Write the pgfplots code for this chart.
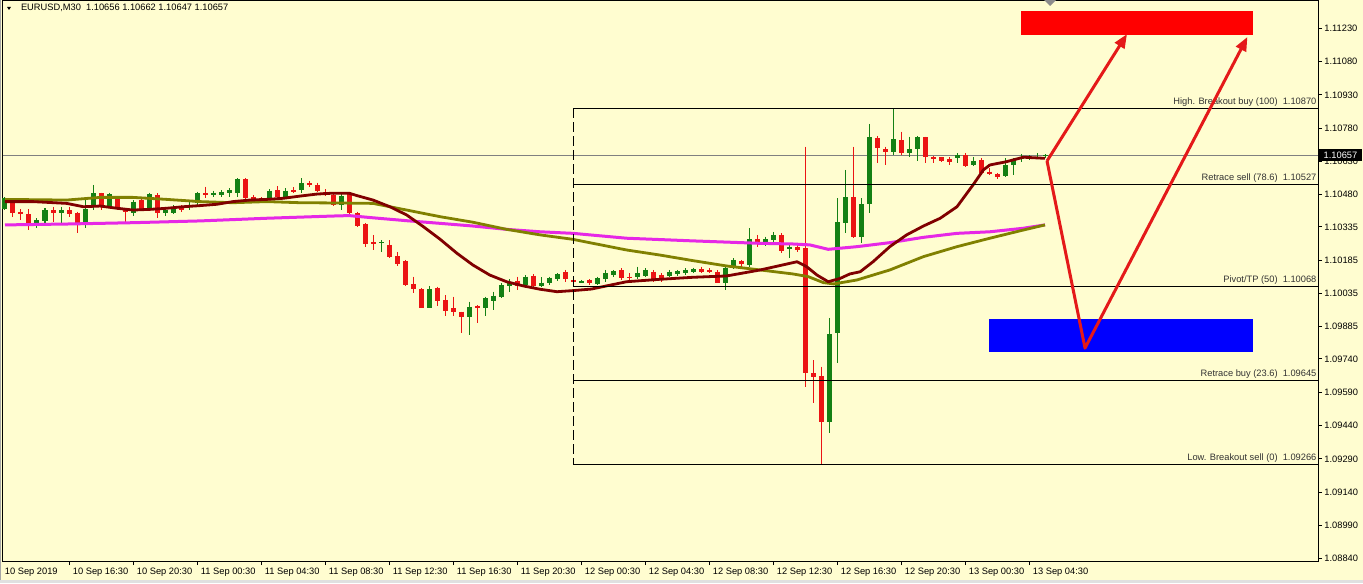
\documentclass[border=0pt]{standalone}
\usepackage{pgfplots}
\pgfplotsset{compat=1.18}
\usepackage{pgfplotstable}
\usepackage{fontspec}
\setmainfont{Liberation Sans}
\usetikzlibrary{arrows.meta}
\definecolor{bgc}{RGB}{255,253,208}
\definecolor{cR}{RGB}{235,20,20}
\definecolor{cG}{RGB}{20,128,20}
\definecolor{maroonMA}{RGB}{128,0,0}
\definecolor{oliveMA}{RGB}{128,128,0}
\definecolor{magMA}{RGB}{230,40,230}
\definecolor{arrowR}{RGB}{228,25,25}
\newcommand\mtfont{\fontsize{4.65pt}{5.6pt}\selectfont}

% bearish candles: bar index, high, low, body top (open), body bottom (close)
\pgfplotstableread{
n hi lo top bot
1 1.10464 1.10381 1.10461 1.10396
2 1.10414 1.10366 1.10404 1.10392
3 1.10414 1.10321 1.10393 1.10351
6 1.10426 1.10359 1.10411 1.10399
8 1.10426 1.10381 1.10411 1.10393
9 1.10404 1.10306 1.10399 1.10351
12 1.10489 1.10411 1.10487 1.10426
14 1.10468 1.10411 1.10459 1.10419
15 1.10419 1.10359 1.10414 1.10401
17 1.10464 1.10408 1.10456 1.10414
19 1.10487 1.10374 1.10479 1.10396
22 1.10434 1.10404 1.10426 1.10411
25 1.10516 1.10464 1.10487 1.10478
30 1.10554 1.10459 1.10550 1.10464
31 1.10479 1.10449 1.10471 1.10456
32 1.10468 1.10449 1.10464 1.10456
34 1.10519 1.10459 1.10501 1.10471
36 1.10514 1.10487 1.10501 1.10494
38 1.10543 1.10516 1.10532 1.10524
39 1.10534 1.10494 1.10524 1.10498
40 1.10505 1.10474 1.10494 1.10487
41 1.10487 1.10429 1.10479 1.10434
43 1.10492 1.10389 1.10483 1.10398
44 1.10404 1.10336 1.10396 1.10341
45 1.10351 1.10246 1.10347 1.10258
46 1.10299 1.10231 1.10266 1.10258
48 1.10276 1.10194 1.10254 1.10201
49 1.10223 1.10159 1.10204 1.10168
50 1.10186 1.10069 1.10181 1.10073
51 1.10111 1.10036 1.10078 1.10055
52 1.10058 1.09968 1.10055 1.09971
54 1.10066 1.09979 1.10061 1.10003
55 1.10028 1.09934 1.10006 1.09956
56 1.10021 1.09934 1.09968 1.09953
57 1.09953 1.09858 1.09953 1.09930
59 1.09983 1.09903 1.09979 1.09968
64 1.10111 1.10051 1.10093 1.10069
66 1.10122 1.10063 1.10115 1.10069
70 1.10141 1.10088 1.10132 1.10099
71 1.10111 1.10073 1.10096 1.10085
73 1.10100 1.10073 1.10096 1.10081
77 1.10149 1.10096 1.10141 1.10106
78 1.10126 1.10088 1.10111 1.10103
81 1.10141 1.10088 1.10133 1.10096
82 1.10126 1.10088 1.10118 1.10103
87 1.10156 1.10126 1.10144 1.10133
88 1.10149 1.10126 1.10141 1.10133
89 1.10141 1.10081 1.10133 1.10084
92 1.10186 1.10144 1.10183 1.10168
94 1.10299 1.10246 1.10281 1.10261
97 1.10306 1.10216 1.10299 1.10228
99 1.10263 1.10223 1.10245 1.10231
100 1.10697 1.09615 1.10239 1.09675
101 1.09735 1.09540 1.09675 1.09660
102 1.09705 1.09266 1.09663 1.09457
106 1.10697 1.10284 1.10468 1.10291
109 1.10745 1.10622 1.10734 1.10689
110 1.10697 1.10614 1.10686 1.10674
112 1.10764 1.10659 1.10727 1.10669
115 1.10742 1.10624 1.10739 1.10649
116 1.10655 1.10622 1.10649 1.10642
117 1.10651 1.10629 1.10649 1.10633
118 1.10649 1.10614 1.10640 1.10629
120 1.10667 1.10604 1.10659 1.10610
122 1.10644 1.10574 1.10637 1.10579
123 1.10599 1.10569 1.10584 1.10574
124 1.10579 1.10552 1.10574 1.10559
}\redtab

% bullish candles: bar index, high, low, body top (close), body bottom (open)
\pgfplotstableread{
n hi lo top bot
0 1.10468 1.10411 1.10464 1.10414
4 1.10374 1.10329 1.10366 1.10351
5 1.10419 1.10354 1.10411 1.10362
7 1.10426 1.10354 1.10411 1.10399
10 1.10456 1.10329 1.10414 1.10354
11 1.10524 1.10411 1.10487 1.10426
13 1.10489 1.10419 1.10482 1.10426
16 1.10456 1.10384 1.10449 1.10396
18 1.10489 1.10411 1.10482 1.10419
20 1.10426 1.10384 1.10411 1.10399
21 1.10434 1.10393 1.10426 1.10399
23 1.10456 1.10411 1.10434 1.10426
24 1.10494 1.10434 1.10487 1.10444
26 1.10498 1.10468 1.10489 1.10478
27 1.10501 1.10471 1.10494 1.10480
28 1.10509 1.10468 1.10501 1.10487
29 1.10554 1.10468 1.10550 1.10487
33 1.10505 1.10456 1.10498 1.10464
35 1.10509 1.10459 1.10498 1.10471
37 1.10554 1.10489 1.10532 1.10501
42 1.10487 1.10411 1.10474 1.10434
47 1.10276 1.10223 1.10267 1.10261
53 1.10069 1.09968 1.10055 1.09971
58 1.09998 1.09848 1.09975 1.09930
60 1.10021 1.09934 1.10013 1.09968
61 1.10043 1.09961 1.10025 1.10003
62 1.10081 1.10013 1.10073 1.10021
63 1.10100 1.10043 1.10081 1.10069
65 1.10118 1.10058 1.10111 1.10073
67 1.10108 1.10063 1.10084 1.10069
68 1.10111 1.10073 1.10106 1.10081
69 1.10126 1.10093 1.10122 1.10100
72 1.10096 1.10081 1.10091 1.10084
74 1.10111 1.10073 1.10103 1.10078
75 1.10141 1.10088 1.10126 1.10099
76 1.10141 1.10111 1.10136 1.10118
79 1.10156 1.10099 1.10126 1.10108
80 1.10149 1.10108 1.10141 1.10115
83 1.10141 1.10108 1.10133 1.10114
84 1.10141 1.10114 1.10136 1.10123
85 1.10149 1.10118 1.10141 1.10129
86 1.10151 1.10126 1.10145 1.10133
90 1.10156 1.10051 1.10149 1.10084
91 1.10194 1.10144 1.10186 1.10156
93 1.10329 1.10156 1.10279 1.10163
95 1.10291 1.10249 1.10279 1.10261
96 1.10313 1.10261 1.10299 1.10276
98 1.10254 1.10194 1.10246 1.10234
103 1.09925 1.09405 1.09851 1.09457
104 1.10464 1.09720 1.10356 1.09856
105 1.10592 1.10306 1.10468 1.10354
107 1.10464 1.10261 1.10438 1.10291
108 1.10799 1.10399 1.10739 1.10438
111 1.10870 1.10659 1.10730 1.10674
113 1.10742 1.10649 1.10685 1.10669
114 1.10745 1.10633 1.10739 1.10685
119 1.10667 1.10622 1.10659 1.10644
121 1.10649 1.10610 1.10633 1.10613
125 1.10644 1.10561 1.10614 1.10565
126 1.10644 1.10569 1.10637 1.10614
127 1.10664 1.10629 1.10649 1.10640
128 1.10659 1.10637 1.10649 1.10642
129 1.10667 1.10640 1.10651 1.10644
130 1.10662 1.10647 1.10657 1.10656
}\greentab

\begin{document}
\begin{tikzpicture}
\fill[bgc] (0,0) rectangle (681.5pt,291.5pt);
\fill[black!12] (0,0) rectangle (681.5pt,1.5pt);
\draw[black!35, line width=0.5pt] (0.3pt,1.5pt) -- (0.3pt,291.5pt);
\begin{axis}[
  at={(1.5pt,11pt)}, anchor=south west,
  scale only axis, width=657.5pt, height=280pt,
  xmin=-0.25, xmax=164.125, ymin=1.088296, ymax=1.11353,
  clip=false,
  axis line style={line width=0.5pt, black},
  tick align=outside, major tick length=2pt,
  tick style={line width=0.5pt, black},
  xtick pos=bottom, ytick pos=right, yticklabel pos=right,
  xtick={8,16,...,128},
  xticklabels={10 Sep 16:30,10 Sep 20:30,11 Sep 00:30,11 Sep 04:30,11 Sep 08:30,11 Sep 12:30,11 Sep 16:30,11 Sep 20:30,12 Sep 00:30,12 Sep 04:30,12 Sep 08:30,12 Sep 12:30,12 Sep 16:30,12 Sep 20:30,13 Sep 00:30,13 Sep 04:30},
  ytick={1.0884,1.0899,1.0914,1.0929,1.0944,1.0959,1.0974,1.09885,1.10035,1.10185,1.10335,1.1048,1.1063,1.1078,1.1093,1.1108,1.1123},
  yticklabels={1.08840,1.08990,1.09140,1.09290,1.09440,1.09590,1.09740,1.09885,1.10035,1.10185,1.10335,1.10480,1.10630,1.10780,1.10930,1.11080,1.11230},
  ticklabel style={font=\mtfont, inner sep=0pt},
  xticklabel style={anchor=north west, xshift=1.75pt, yshift=-1.25pt},
  yticklabel style={anchor=west, xshift=1pt},
  scaled y ticks=false,
  candle/.style={draw=none, mark=none, error bars/.cd, y dir=minus, y explicit, error mark=none},
]
% current price line
\draw[black!50, line width=0.5pt] (axis cs:-0.25,1.10657) -- (axis cs:164.125,1.10657);

% wicks
\addplot[candle, error bar style={line width=0.5pt, draw=cR}]
  table[x=n, y=hi, y error minus expr=\thisrow{hi}-\thisrow{lo}] {\redtab};
\addplot[candle, error bar style={line width=0.5pt, draw=cG}]
  table[x=n, y=hi, y error minus expr=\thisrow{hi}-\thisrow{lo}] {\greentab};
% bodies
\addplot[candle, error bar style={line width=2.5pt, draw=cR}]
  table[x=n, y=top, y error minus expr=\thisrow{top}-\thisrow{bot}] {\redtab};
\addplot[candle, error bar style={line width=2.5pt, draw=cG}]
  table[x=n, y=top, y error minus expr=\thisrow{top}-\thisrow{bot}] {\greentab};

% moving averages
\addplot[magMA, line width=1.5pt, line join=round] coordinates {
(0,1.10344) (7.7,1.10348) (16,1.10354) (24.4,1.10362) (32.7,1.10374) (41,1.10384)
(43,1.10386) (46,1.10376) (50.2,1.10363) (54.4,1.10351) (58.5,1.10339) (62.7,1.10324)
(66.9,1.10313) (71,1.10306) (77.7,1.10284) (86,1.10272) (94.4,1.10261) (98.5,1.10258)
(100.6,1.10254) (102.9,1.10234) (106.5,1.10246) (110.6,1.10264) (114.8,1.10288)
(119,1.10306) (123.1,1.10313) (127.3,1.10329) (130,1.10344)};
\addplot[oliveMA, line width=1.4pt, line join=round] coordinates {
(0,1.10459) (7.7,1.10456) (11.9,1.10468) (16,1.10468) (20.2,1.10459) (24.4,1.10449)
(28.5,1.10444) (32.7,1.10449) (36.9,1.10444) (41,1.10443) (46,1.10441) (50.2,1.10411)
(54.4,1.10381) (58.5,1.10356) (62.7,1.10324) (66.9,1.10299) (71,1.10279) (73.5,1.10261)
(77.7,1.10231) (81.9,1.10208) (86,1.10183) (90.2,1.10159) (94.4,1.10141) (98.5,1.10123)
(100.4,1.10111) (102.3,1.10084) (103.6,1.10078) (106.5,1.10096) (108.5,1.10118)
(110.6,1.10141) (114.8,1.10201) (119,1.10246) (123.1,1.10284) (127.3,1.10321) (130,1.10344)};
\addplot[maroonMA, line width=1.4pt, line join=round] coordinates {
(0,1.10449) (3.5,1.10449) (7.7,1.10441) (9.8,1.10426) (11.9,1.10429) (14,1.10419)
(16,1.10411) (18.1,1.10414) (20.2,1.10419) (22.3,1.10426) (24.4,1.10431) (26.5,1.10437)
(28.5,1.10449) (30.6,1.10456) (32.7,1.10459) (34.8,1.10464) (36.9,1.10474) (39,1.10483)
(41,1.10487) (43,1.10487) (44,1.10476) (46,1.10456) (48.1,1.10426) (50.2,1.10389)
(52.3,1.10336) (54.4,1.10279) (56.5,1.10216) (58.5,1.10163) (60.6,1.10118) (62.7,1.10088)
(64.8,1.10069) (66.9,1.10054) (69,1.10043) (71,1.10048) (73.3,1.10055) (77.7,1.10088)
(81.9,1.10099) (86,1.10108) (90.2,1.10114) (94.4,1.10141) (98.5,1.10174) (99,1.10178)
(100.2,1.10156) (101.5,1.10118) (102.9,1.10088) (104.4,1.10103) (105.6,1.10123)
(106.9,1.10133) (108.5,1.10178) (110.6,1.10246) (112.7,1.10299) (114.8,1.10339)
(116.9,1.10374) (119,1.10426) (121,1.10524) (122.3,1.10592) (123.1,1.10614)
(125.2,1.10629) (127.3,1.10649) (130,1.10644)};

% pivot levels
\draw[black, line width=0.5pt, dash pattern=on 5pt off 2pt] (axis cs:71,1.10870) -- (axis cs:71,1.09266);
\draw[black, line width=0.5pt] (axis cs:71,1.10870) -- (axis cs:164.125,1.10870);
\draw[black, line width=0.5pt] (axis cs:71,1.10527) -- (axis cs:164.125,1.10527);
\draw[black, line width=0.5pt] (axis cs:71,1.10068) -- (axis cs:164.125,1.10068);
\draw[black, line width=0.5pt] (axis cs:71,1.09645) -- (axis cs:164.125,1.09645);
\draw[black, line width=0.5pt] (axis cs:71,1.09266) -- (axis cs:164.125,1.09266);
\node[anchor=base east, inner sep=0pt, font=\mtfont, text=black!80, xshift=-0.6pt, yshift=2pt] at (axis cs:164.125,1.10870) {High. Breakout buy (100)~~1.10870};
\node[anchor=base east, inner sep=0pt, font=\mtfont, text=black!80, xshift=-0.6pt, yshift=2pt] at (axis cs:164.125,1.10527) {Retrace sell (78.6)~~1.10527};
\node[anchor=base east, inner sep=0pt, font=\mtfont, text=black!80, xshift=-0.6pt, yshift=2pt] at (axis cs:164.125,1.10068) {Pivot/TP (50)~~1.10068};
\node[anchor=base east, inner sep=0pt, font=\mtfont, text=black!80, xshift=-0.6pt, yshift=2pt] at (axis cs:164.125,1.09645) {Retrace buy (23.6)~~1.09645};
\node[anchor=base east, inner sep=0pt, font=\mtfont, text=black!80, xshift=-0.6pt, yshift=2pt] at (axis cs:164.125,1.09266) {Low. Breakout sell (0)~~1.09266};

% trade zones
\fill[red] (axis cs:127,1.11308) rectangle (axis cs:156,1.11198);
\fill[blue] (axis cs:123,1.09920) rectangle (axis cs:156,1.09773);

% projected paths
\draw[arrowR, line width=1.5pt, line join=round, -{Triangle[length=7pt,width=5.5pt]}]
  (axis cs:130.25,1.10632) -- (axis cs:140.25,1.11204);
\draw[arrowR, line width=1.5pt, line join=round, -{Triangle[length=7pt,width=5.5pt]}]
  (axis cs:130.25,1.10632) -- (axis cs:135,1.09789) -- (axis cs:155.3,1.11191);

\coordinate (pbox) at (axis cs:164.125,1.10657);
\end{axis}
\node[fill=black, text=white, font=\mtfont, inner sep=0pt, minimum width=21.5pt, minimum height=6pt, anchor=west, xshift=0.3pt] at (pbox) {1.10657};
% header
\fill[black] (3.5pt,288pt) -- (5.5pt,288pt) -- (4.5pt,286.5pt) -- cycle;
\node[anchor=base west, inner sep=0pt, font=\mtfont] at (10.3pt,286pt) {EURUSD,M30~~1.10656 1.10662 1.10647 1.10657};
\fill[black!45] (522pt,291.5pt) -- (528pt,291.5pt) -- (525pt,288.5pt) -- cycle;
\node[anchor=north west, inner sep=0pt, font=\mtfont] at (2.25pt,7.75pt) {10 Sep 2019};
\pgfresetboundingbox
\path[use as bounding box] (0,0) rectangle (681.5pt,291.5pt);
\end{tikzpicture}
\end{document}
